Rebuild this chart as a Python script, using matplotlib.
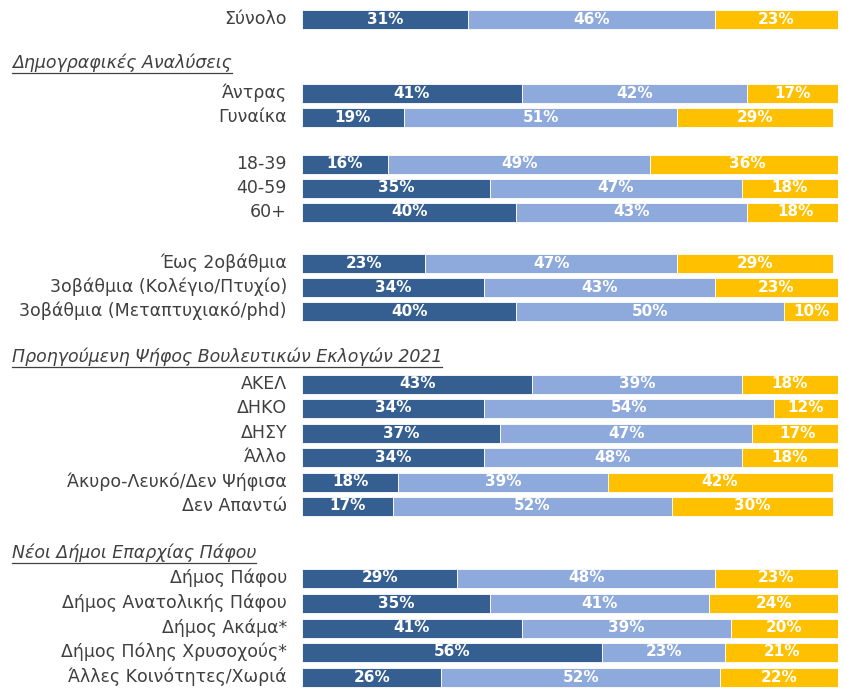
import matplotlib.pyplot as plt

# data
categories = [
    "Σύνολο",
    "Άντρας", "Γυναίκα",
    "18-39", "40-59", "60+",
    "Έως 2οβάθμια", "3οβάθμια (Κολέγιο/Πτυχίο)", "3οβάθμια (Μεταπτυχιακό/phd)",
    "ΑΚΕΛ", "ΔΗΚΟ", "ΔΗΣΥ", "Άλλο", "Άκυρο-Λευκό/Δεν Ψήφισα", "Δεν Απαντώ",
    "Δήμος Πάφου", "Δήμος Ανατολικής Πάφου", "Δήμος Ακάμα*",
    "Δήμος Πόλης Χρυσοχούς*", "Άλλες Κοινότητες/Χωριά",
]
series1 = [31, 41, 19, 16, 35, 40, 23, 34, 40, 43, 34, 37, 34, 18, 17, 29, 35, 41, 56, 26]
series2 = [46, 42, 51, 49, 47, 43, 47, 43, 50, 39, 54, 47, 48, 39, 52, 48, 41, 39, 23, 52]
series3 = [23, 17, 29, 36, 18, 18, 29, 23, 10, 18, 12, 17, 18, 42, 30, 23, 24, 20, 21, 22]

headers = [
    "Δημογραφικές Αναλύσεις",
    "Προηγούμενη Ψήφος Βουλευτικών Εκλογών 2021",
    "Νέοι Δήμοι Επαρχίας Πάφου",
]

# layout (pixel rows from top)
row_y = [19, 93, 117, 164, 188, 212, 263, 287, 311,
         384, 408, 433, 457, 482, 506, 578, 603, 628, 652, 677]
header_y = [63, 357, 553]

colors = ["#365F91", "#8EA9DB", "#FFC000"]
W, H = 845, 688

fig = plt.figure(figsize=(W / 100, H / 100), dpi=100)
ax = fig.add_axes([302 / W, 0, 536 / W, 1])
ax.set_xlim(0, 100)
ax.set_ylim(H, 0)
ax.axis("off")

for i, cat in enumerate(categories):
    y = row_y[i]
    left = 0
    for vals, c in zip((series1, series2, series3), colors):
        v = vals[i]
        ax.barh(y, v, left=left, height=19, color=c, edgecolor="white", linewidth=0.6)
        ax.text(left + v / 2, y, f"{v}%", ha="center", va="center",
                color="white", fontsize=11, fontweight="bold")
        left += v
    ax.text(-2.8, y, cat, ha="right", va="center", color="#404040", fontsize=12.5)

fig.canvas.draw()
renderer = fig.canvas.get_renderer()
for h, y in zip(headers, header_y):
    t = fig.text(12 / W, 1 - y / H, h, ha="left", va="center",
                 color="#404040", fontsize=12.5, style="italic")
    bb = t.get_window_extent(renderer)
    ly = bb.y0 - 1
    fig.add_artist(plt.Line2D([bb.x0 / W, bb.x1 / W], [ly / H] * 2,
                              color="#404040", linewidth=0.9, transform=fig.transFigure))

fig.savefig("out.png", dpi=100)
